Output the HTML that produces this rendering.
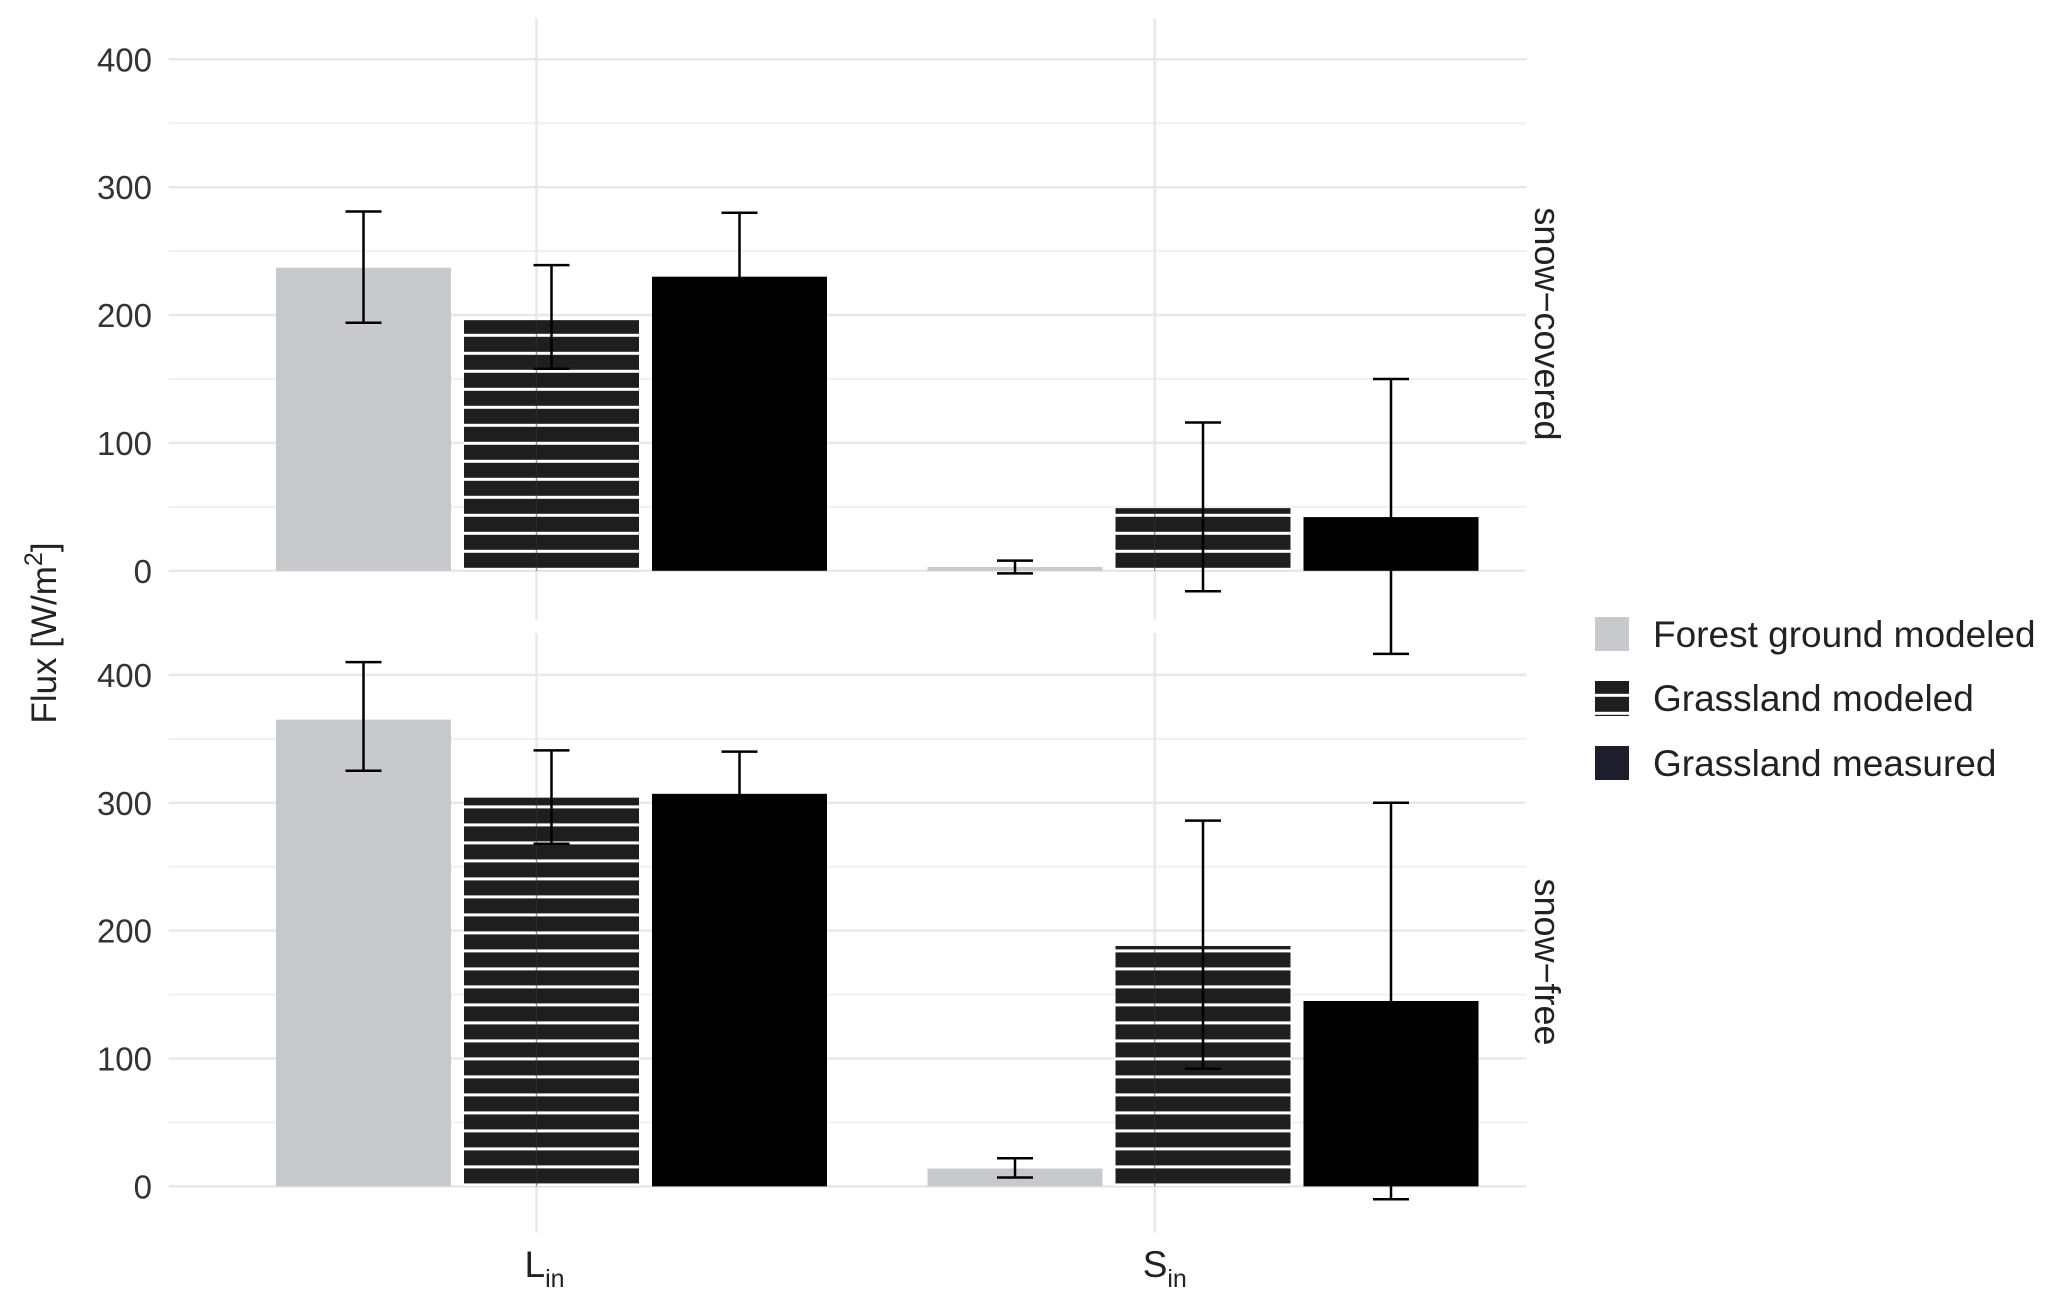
<!DOCTYPE html>
<html><head><meta charset="utf-8"><style>
html,body{margin:0;padding:0;background:#fff}
svg{display:block}
text{font-family:"Liberation Sans",sans-serif;}
</style></head><body>
<svg id="chart" width="2067" height="1308" viewBox="0 0 2067 1308" xmlns="http://www.w3.org/2000/svg">
<defs>
<pattern id="stripeTop" patternUnits="userSpaceOnUse" x="0" y="570.8" width="20" height="18">
<rect x="0" y="0" width="20" height="15" fill="#1e1e1e"/><rect x="0" y="15" width="20" height="3" fill="#fff"/>
</pattern>
<pattern id="stripeBot" patternUnits="userSpaceOnUse" x="0" y="1186.4" width="20" height="18">
<rect x="0" y="0" width="20" height="15" fill="#1e1e1e"/><rect x="0" y="15" width="20" height="3" fill="#fff"/>
</pattern>
</defs>
<g id="grid"></g>
<g id="bars"></g>
<g id="errs"></g>
<g id="labels"></g>
<text x="56" y="633" font-size="35" fill="#222" text-anchor="middle" transform="rotate(-90 56 633)">Flux [W/m<tspan dy="-14" font-size="25">2</tspan><tspan dy="14">]</tspan></text>
<text x="1535" y="324" font-size="36" fill="#222" text-anchor="middle" transform="rotate(90 1535 324)">snow−covered</text>
<text x="1535" y="962" font-size="36" fill="#222" text-anchor="middle" transform="rotate(90 1535 962)">snow−free</text>
<g>
<rect x="1595" y="617" width="34" height="34" fill="#c8c9cc"/>
<text x="1653" y="647" font-size="37" fill="#222">Forest ground modeled</text>
<rect x="1595" y="681" width="34" height="35" fill="url(#stripeTop)"/>
<text x="1653" y="711" font-size="37" fill="#222">Grassland modeled</text>
<rect x="1595" y="746" width="34" height="34" fill="#1f1e2c"/>
<text x="1653" y="776" font-size="37" fill="#222">Grassland measured</text>
</g>
</svg>
<script>
const categories = ["Lin","Sin"];
const panels = ["snow-covered","snow-free"];
const series = ["forest","grassModeled","grassMeasured"];
// values [panel][category]
const forestVals = [[237,3],[365,14]];
const grassModVals = [[196,49],[304,188]];
const grassMeasVals = [[230,42],[307,145]];
const forestLo = [[194,-2],[325,7]];
const forestHi = [[281,8],[410,22]];
const grassModLo = [[158,-16],[268,92]];
const grassModHi = [[239,116],[341,286]];
const grassMeasLo = [[185,-65],[272,-10]];
const grassMeasHi = [[280,150],[340,300]];
const yTicks = [0,100,200,300,400];
const yMinor = [50,150,250,350];

const NS="http://www.w3.org/2000/svg";
function mk(tag,attrs,parent){const e=document.createElementNS(NS,tag);for(const k in attrs)e.setAttribute(k,attrs[k]);parent.appendChild(e);return e;}
const panelBase=[570.8,1186.4];
const pxPerUnit=(570.8-59.3)/400;
function yScale(p,v){return panelBase[p]-v*pxPerUnit;}
const catCenter=[551.5,1203];
const gridX=[536.5,1154.7];
const barW=175, step=188;
function xBar(c,s){return catCenter[c]+(s-1)*step-barW/2;}
const panelTop=[18.5,633], panelBot=[619.6,1232.5];
const grid=document.getElementById('grid'), bars=document.getElementById('bars'), errs=document.getElementById('errs'), labels=document.getElementById('labels');
const valsAll=[forestVals,grassModVals,grassMeasVals], loAll=[forestLo,grassModLo,grassMeasLo], hiAll=[forestHi,grassModHi,grassMeasHi];
const fills=["#c8c9cc",null,"#000"];
for(let p=0;p<2;p++){
  yMinor.forEach(v=>{const l=mk('line',{x1:168.7,x2:1526.5,y1:yScale(p,v),y2:yScale(p,v),stroke:'#f0f0f0','stroke-width':2},grid);
    
    });
  yTicks.forEach(v=>{const l=mk('line',{x1:168.7,x2:1526.5,y1:yScale(p,v),y2:yScale(p,v),stroke:'#e8e8e8','stroke-width':2.5},grid);
    
    
    const t=mk('text',{x:152,y:yScale(p,v)+12,'font-size':33,fill:'#333','text-anchor':'end'},labels);
    t.textContent=v;
    
    });
  gridX.forEach(x=>{const l=mk('line',{x1:x,x2:x,y1:panelTop[p],y2:panelBot[p],stroke:'#e8e8e8','stroke-width':2.5},grid);
    
    });
  for(let c=0;c<2;c++){
    for(let s=0;s<3;s++){
      const v=valsAll[s][p][c];
      const x=xBar(c,s), y=yScale(p,v);
      const r=mk('rect',{x:x,y:y,width:barW,height:panelBase[p]-y,fill:fills[s]||(p===0?'url(#stripeTop)':'url(#stripeBot)')},bars);
      
      
      if(s===1){const gl=mk('line',{x1:gridX[c],x2:gridX[c],y1:y,y2:panelBase[p],stroke:'#333','stroke-width':1.5,opacity:0.5},bars);
        
        }
      const cx=x+barW/2, lo=yScale(p,loAll[s][p][c]), hi=yScale(p,hiAll[s][p][c]);
      const g=mk('g',{stroke:'#000','stroke-width':2.5},errs);
      
      
      mk('line',{x1:cx,x2:cx,y1:lo,y2:hi},g);
      mk('line',{x1:cx-18,x2:cx+18,y1:lo,y2:lo},g);
      mk('line',{x1:cx-18,x2:cx+18,y1:hi,y2:hi},g);
    }
  }
}
const xl=[["L","in"],["S","in"]];
xl.forEach((t,i)=>{const e=mk('text',{x:gridX[i]-12,y:1277,'font-size':37,fill:'#222'},labels);
  e.innerHTML=t[0]+'<tspan dy="10" font-size="25">'+t[1]+'</tspan>';
  
  });
</script>
</body></html>
